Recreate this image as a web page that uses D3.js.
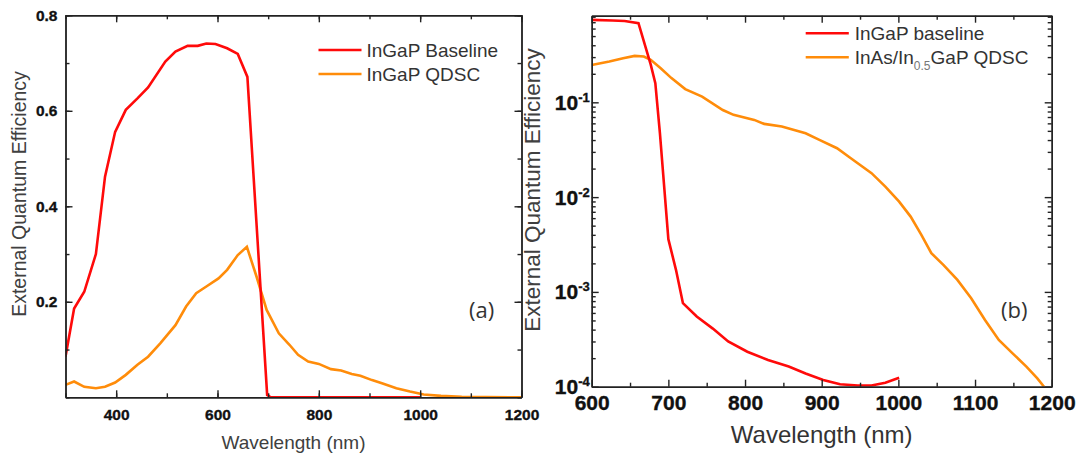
<!DOCTYPE html>
<html>
<head>
<meta charset="utf-8">
<script src="https://cdn.jsdelivr.net/npm/d3@7"></script>
<style>
  body { margin: 0; background: #fff; }
  svg { display: block; font-family: "Liberation Sans", Arial, sans-serif; }
  .axis path, .axis line { stroke: #222; stroke-width: 1.4px; }
</style>
</head>
<body>
<svg id="chart" width="1081" height="457"></svg>
<script>
// panel (a): linear EQE
waveBaseA = [300,317,337,360,378,398,419,442,463,497,517,541,561,578,596,619,640,659,698,705,800,900,1000]
eqeBaseA  = [0.085,0.186,0.221,0.30,0.462,0.556,0.602,0.626,0.649,0.703,0.724,0.736,0.736,0.741,0.740,0.731,0.719,0.671,0.005,0,0,0,0]
waveQdA = [300,317,337,360,378,398,419,442,463,487,517,538,558,578,602,619,640,658,677,697,721,742,759,779,800,824,844,865,882,905,926,953,980,1007,1041,1082,1200]
eqeQdA  = [0.026,0.033,0.022,0.019,0.022,0.031,0.047,0.068,0.085,0.113,0.151,0.190,0.218,0.232,0.249,0.267,0.298,0.315,0.253,0.183,0.134,0.110,0.089,0.075,0.070,0.059,0.056,0.049,0.045,0.036,0.029,0.019,0.012,0.006,0.003,0.001,0]
ticksXA = [400,600,800,1000,1200]
ticksYA = [0.2,0.4,0.6,0.8]

// panel (b): log EQE
waveBaseB = [600,627,643,661,677,683,689,700,710,719,737,758,778,803,830,857,879,902,924,947,965,983,1001]
eqeBaseB  = [0.741,0.73,0.72,0.684,0.25,0.159,0.047,0.0036,0.0017,7.6e-4,5.5e-4,4.1e-4,3.0e-4,2.34e-4,1.91e-4,1.63e-4,1.38e-4,1.18e-4,1.06e-4,1.03e-4,1.03e-4,1.10e-4,1.24e-4]
waveQdB = [600,623,641,656,668,677,690,704,722,744,771,785,812,825,848,879,897,920,938,965,983,1001,1016,1030,1043,1059,1077,1095,1113,1131,1149,1167,1181,1190]
eqeQdB  = [0.248,0.269,0.292,0.309,0.304,0.281,0.229,0.18,0.138,0.115,0.083,0.0737,0.0653,0.0592,0.0555,0.0472,0.0402,0.0328,0.0257,0.0179,0.0129,0.00897,0.00623,0.00399,0.00256,0.00192,0.00134,8.57e-4,5.06e-4,3.11e-4,2.25e-4,1.63e-4,1.23e-4,1e-4]
ticksXB = [600,700,800,900,1000,1100,1200]
ticksYB = [1e-4,1e-3,1e-2,1e-1]

red = "#ff0a0a"
orange = "#ff8c0a"
labelFont = "'Liberation Sans', Arial, sans-serif"

svg = d3.select("#chart")

zip = function(xs, ys) { return xs.map(function(x, i) { return [x, ys[i]] }) }

// bold, slightly heavy tick labels like the original figure
styleLabels = function(sel, size) {
  sel.selectAll(".tick text")
    .style("font-family", labelFont).style("font-weight", "bold")
    .style("font-size", size).attr("fill", "#111")
    .attr("stroke", "#111").attr("stroke-width", 0.35)
}

// ---------- panel (a) ----------
xA = d3.scaleLinear().domain([300, 1200]).range([65.5, 521.5])
yA = d3.scaleLinear().domain([0, 0.8]).range([397.3, 15.3])

gA = svg.append("g")
gA.append("clipPath").attr("id", "clipA").append("rect")
  .attr("x", 65.5).attr("y", 15.3).attr("width", 456).attr("height", 382)

lineA = d3.line().x(function(d) { return xA(d[0]) }).y(function(d) { return yA(d[1]) })
gA.append("path").datum(zip(waveQdA, eqeQdA)).attr("d", lineA)
  .attr("clip-path", "url(#clipA)")
  .attr("fill", "none").attr("stroke", orange).attr("stroke-width", 2.6)
gA.append("path").datum(zip(waveBaseA, eqeBaseA)).attr("d", lineA)
  .attr("clip-path", "url(#clipA)")
  .attr("fill", "none").attr("stroke", red).attr("stroke-width", 2.6)

// minor ticks
minorXA = d3.range(300, 1201, 100)
minorYA = d3.range(0, 0.81, 0.1)
gA.append("g").attr("class", "axis").attr("transform", "translate(0,397.3)")
  .call(d3.axisBottom(xA).tickValues(minorXA).tickSize(-4).tickSizeOuter(0).tickFormat(""))
gA.append("g").attr("class", "axis").attr("transform", "translate(0,15.3)")
  .call(d3.axisTop(xA).tickValues(minorXA).tickSize(-4).tickSizeOuter(0).tickFormat(""))
gA.append("g").attr("class", "axis").attr("transform", "translate(65.5,0)")
  .call(d3.axisLeft(yA).tickValues(minorYA).tickSize(-4).tickSizeOuter(0).tickFormat(""))
gA.append("g").attr("class", "axis").attr("transform", "translate(521.5,0)")
  .call(d3.axisRight(yA).tickValues(minorYA).tickSize(-4).tickSizeOuter(0).tickFormat(""))

// major ticks with labels
gA.append("g").attr("class", "axis").attr("transform", "translate(0,397.3)")
  .call(d3.axisBottom(xA).tickValues(ticksXA).tickSize(-7).tickSizeOuter(0).tickPadding(12).tickFormat(d3.format("d")))
  .call(styleLabels, "15.5px")
gA.append("g").attr("class", "axis").attr("transform", "translate(65.5,0)")
  .call(d3.axisLeft(yA).tickValues(ticksYA).tickSize(-7).tickSizeOuter(0).tickPadding(8).tickFormat(d3.format(".1f")))
  .call(styleLabels, "15.5px")
gA.append("g").attr("class", "axis").attr("transform", "translate(0,15.3)")
  .call(d3.axisTop(xA).tickValues(ticksXA).tickSize(-7).tickSizeOuter(0).tickFormat(""))
gA.append("g").attr("class", "axis").attr("transform", "translate(521.5,0)")
  .call(d3.axisRight(yA).tickValues(ticksYA).tickSize(-7).tickSizeOuter(0).tickFormat(""))

gA.append("text").attr("x", 293.5).attr("y", 449).attr("text-anchor", "middle")
  .attr("fill", "#404040").style("font-size", "19px").text("Wavelength (nm)")
gA.append("text").attr("transform", "translate(26,194) rotate(-90)").attr("text-anchor", "middle")
  .attr("fill", "#404040").style("font-size", "19.5px").text("External Quantum Efficiency")

legendA = [["InGaP Baseline", red], ["InGaP QDSC", orange]]
legendA.forEach(function(l, i) {
  gA.append("line").attr("x1", 318.5).attr("x2", 361.5).attr("y1", 50 + i * 24).attr("y2", 50 + i * 24)
    .attr("stroke", l[1]).attr("stroke-width", 2.6)
  gA.append("text").attr("x", 366.5).attr("y", 50 + i * 24 + 7).attr("fill", "#333")
    .style("font-size", "19px").text(l[0])
})
gA.append("text").attr("x", 469).attr("y", 318).attr("fill", "#333")
  .style("font-family", "'Open Sans', sans-serif").style("font-size", "22px").text("(a)")

// ---------- panel (b) ----------
xB = d3.scaleLinear().domain([600, 1200]).range([591.7, 1051.7])
yB = d3.scaleLog().domain([1e-4, 0.82]).range([386.7, 15.7])

gB = svg.append("g")
gB.append("clipPath").attr("id", "clipB").append("rect")
  .attr("x", 591.7).attr("y", 15.7).attr("width", 460).attr("height", 371)

lineB = d3.line().x(function(d) { return xB(d[0]) }).y(function(d) { return yB(d[1]) })
gB.append("path").datum(zip(waveQdB, eqeQdB)).attr("d", lineB)
  .attr("clip-path", "url(#clipB)")
  .attr("fill", "none").attr("stroke", orange).attr("stroke-width", 2.6)
gB.append("path").datum(zip(waveBaseB, eqeBaseB)).attr("d", lineB)
  .attr("clip-path", "url(#clipB)")
  .attr("fill", "none").attr("stroke", red).attr("stroke-width", 2.6)

minorXB = d3.range(650, 1200, 100)
minorYB = []
ticksYB.forEach(function(t) { for (k = 2; k <= 9; k++) { if (t * k <= 0.82) minorYB.push(t * k) } })

gB.append("g").attr("class", "axis").attr("transform", "translate(0,386.7)")
  .call(d3.axisBottom(xB).tickValues(minorXB).tickSize(-4).tickSizeOuter(0).tickFormat(""))
gB.append("g").attr("class", "axis").attr("transform", "translate(0,15.7)")
  .call(d3.axisTop(xB).tickValues(minorXB).tickSize(-4).tickSizeOuter(0).tickFormat(""))
gB.append("g").attr("class", "axis").attr("transform", "translate(591.7,0)")
  .call(d3.axisLeft(yB).tickValues(minorYB).tickSize(-4).tickSizeOuter(0).tickFormat(""))
gB.append("g").attr("class", "axis").attr("transform", "translate(1051.7,0)")
  .call(d3.axisRight(yB).tickValues(minorYB).tickSize(-4).tickSizeOuter(0).tickFormat(""))

gB.append("g").attr("class", "axis").attr("transform", "translate(0,386.7)")
  .call(d3.axisBottom(xB).tickValues(ticksXB).tickSize(-7).tickSizeOuter(0).tickPadding(8).tickFormat(d3.format("d")))
  .call(styleLabels, "21px")
gB.append("g").attr("class", "axis").attr("transform", "translate(0,15.7)")
  .call(d3.axisTop(xB).tickValues(ticksXB).tickSize(-7).tickSizeOuter(0).tickFormat(""))
gB.append("g").attr("class", "axis").attr("transform", "translate(1051.7,0)")
  .call(d3.axisRight(yB).tickValues(ticksYB).tickSize(-7).tickSizeOuter(0).tickFormat(""))
yAxB = gB.append("g").attr("class", "axis").attr("transform", "translate(591.7,0)")
  .call(d3.axisLeft(yB).tickValues(ticksYB).tickSize(-7).tickSizeOuter(0).tickPadding(2).tickFormat(""))
yAxB.selectAll(".tick text").each(function(d) {
  t = d3.select(this).attr("dy", null).attr("y", 7)
  t.append("tspan").text("10")
  t.append("tspan").attr("dy", -8).style("font-size", "13px").text(Math.round(Math.log10(d)).toString())
})
yAxB.call(styleLabels, "21px")

gB.append("text").attr("x", 821.7).attr("y", 443).attr("text-anchor", "middle")
  .attr("fill", "#333").style("font-size", "24px").text("Wavelength (nm)")
gB.append("text").attr("transform", "translate(540,190) rotate(-90)").attr("text-anchor", "middle")
  .attr("fill", "#404040").style("font-size", "22.5px").text("External Quantum Efficiency")

lineLegB = gB.append("g")
lineLegB.append("line").attr("x1", 805.7).attr("x2", 848.8).attr("y1", 33.3).attr("y2", 33.3)
  .attr("stroke", red).attr("stroke-width", 2.6)
lineLegB.append("text").attr("x", 854.7).attr("y", 40.3).attr("fill", "#333")
  .style("font-size", "19px").text("InGaP baseline")
lineLegB.append("line").attr("x1", 805.7).attr("x2", 848.8).attr("y1", 57.3).attr("y2", 57.3)
  .attr("stroke", orange).attr("stroke-width", 2.6)
qdText = lineLegB.append("text").attr("x", 854.7).attr("y", 64.3).attr("fill", "#333").style("font-size", "19px")
qdText.append("tspan").text("InAs/In")
qdText.append("tspan").attr("dy", 6).style("font-size", "12px").attr("fill", "#777").text("0.5")
qdText.append("tspan").attr("dy", -6).text("GaP QDSC")

gB.append("text").attr("x", 1001).attr("y", 318).attr("fill", "#333")
  .style("font-family", "'Open Sans', sans-serif").style("font-size", "22px").text("(b)")
</script>
</body>
</html>
